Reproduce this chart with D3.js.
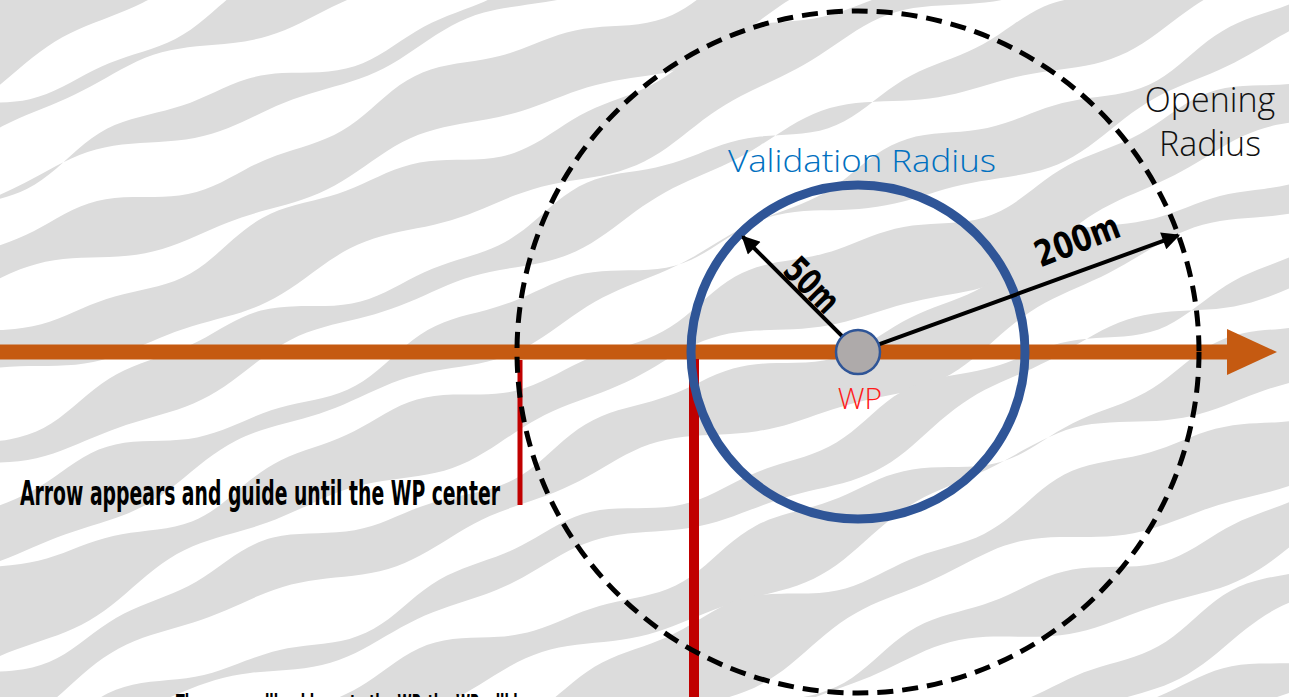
<!DOCTYPE html>
<html lang="en">
<head>
<meta charset="UTF-8">
<title>WP radius diagram</title>
<script src="https://d3js.org/d3.v7.min.js"></script>
<style>
  body { margin: 0; padding: 0; background: #fff; overflow: hidden; }
  svg { display: block; }
  .cond { font-family: "Liberation Sans Narrow", "DejaVu Sans Condensed", "Roboto", sans-serif; font-weight: bold; }
  .thin { font-family: "Open Sans", "Lato", sans-serif; font-weight: 300; }
</style>
</head>
<body>
<div id="chart"></div>
<script>
// radii in metres and their labels
const radiusNames = ["Validation Radius", "Opening Radius"];
const radiusMeters = [50, 200];
const radiusLabels = ["50m", "200m"];
const arrowAngles = [-135, -20];   // degrees, direction of each radius arrow
const wpLabel = "WP";
const notes = ["Arrow appears and guide until the WP center",
               "The arrow will guide up to the WP, the WP will be"];

const width = 1289, height = 697;
const cx = 858, cy = 352;

const svg = d3.select("#chart").append("svg")
  .attr("width", width).attr("height", height);

// diagram is not to scale: piecewise map metres -> pixels
const r = d3.scaleLinear().domain([0, 50, 200]).range([0, 167, 341]);

// ---- camouflage background (decoration) ----
const bg = svg.append("g").attr("transform", `rotate(-21 ${width / 2} ${height / 2})`);
const bandLine = d3.line().curve(d3.curveBasisClosed);
for (let i = 0; i < 16; i++) {
  const v0 = -600 + i * 76;
  const th = 40 + 16 * Math.sin(i * 1.7);
  const top = [], bot = [];
  for (let u = -400; u <= 1700; u += 35) {
    const w1 = 14 * Math.sin(u / 70 + i * 2.3) + 7 * Math.sin(u / 27 + i);
    const w2 = 15 * Math.sin(u / 83 + i * 1.1) + 6 * Math.cos(u / 31 + i * 3);
    top.push([u, v0 + height / 2 - th / 2 + w1]);
    bot.push([u, v0 + height / 2 + th / 2 + w2 + 12 * Math.sin(u / 160 + i)]);
  }
  bg.append("path")
    .attr("d", bandLine(top.concat(bot.reverse())))
    .attr("fill", "#dcdcdc");
}

// ---- route arrow ----
svg.append("line")
  .attr("x1", 0).attr("y1", cy).attr("x2", 1232).attr("y2", cy)
  .attr("stroke", "#c55a11").attr("stroke-width", 15);
svg.append("path")
  .attr("d", `M1227,${cy - 23}L1277,${cy}L1227,${cy + 23}Z`)
  .attr("fill", "#c55a11");

// ---- red markers ----
const xOpen = cx - r(200), xVal = cx - r(50);
svg.append("line")
  .attr("x1", xOpen + 3).attr("y1", cy + 8).attr("x2", xOpen + 3).attr("y2", 505)
  .attr("stroke", "#c00000").attr("stroke-width", 5);
svg.append("line")
  .attr("x1", xVal + 3).attr("y1", cy + 7).attr("x2", xVal + 3).attr("y2", height)
  .attr("stroke", "#c00000").attr("stroke-width", 10);

// ---- circles ----
svg.append("circle")
  .attr("cx", cx).attr("cy", cy).attr("r", r(radiusMeters[0]))
  .attr("fill", "none").attr("stroke", "#2f5597").attr("stroke-width", 9);
svg.append("circle")
  .attr("cx", cx).attr("cy", cy).attr("r", r(radiusMeters[1]))
  .attr("fill", "none").attr("stroke", "#000").attr("stroke-width", 5)
  .attr("stroke-dasharray", "16 9");

// ---- radius arrows ----
const defs = svg.append("defs");
defs.append("marker")
  .attr("id", "head").attr("viewBox", "0 0 10 10")
  .attr("refX", 9).attr("refY", 5)
  .attr("markerWidth", 5).attr("markerHeight", 4.5)
  .attr("orient", "auto")
  .append("path").attr("d", "M0,0L10,5L0,10Z").attr("fill", "#000");

radiusMeters.forEach((m, i) => {
  const a = arrowAngles[i] * Math.PI / 180;
  const len = r(m) - (i === 0 ? 4 : 0);
  svg.append("line")
    .attr("x1", cx + 20 * Math.cos(a)).attr("y1", cy + 20 * Math.sin(a))
    .attr("x2", cx + len * Math.cos(a)).attr("y2", cy + len * Math.sin(a))
    .attr("stroke", "#000").attr("stroke-width", 4)
    .attr("marker-end", "url(#head)");
});

// labels along arrows
svg.append("text").attr("class", "cond")
  .attr("transform", "translate(812,285) rotate(45)")
  .attr("text-anchor", "middle").attr("dy", "0.35em")
  .attr("font-size", 36).attr("textLength", 62).attr("lengthAdjust", "spacingAndGlyphs")
  .text(radiusLabels[0]);
svg.append("text").attr("class", "cond")
  .attr("transform", "translate(1077,240) rotate(-21)")
  .attr("text-anchor", "middle").attr("dy", "0.35em")
  .attr("font-size", 36).attr("textLength", 88).attr("lengthAdjust", "spacingAndGlyphs")
  .text(radiusLabels[1]);

// ---- WP ----
svg.append("circle")
  .attr("cx", cx).attr("cy", cy).attr("r", 22)
  .attr("fill", "#aeaaaa").attr("stroke", "#2f5597").attr("stroke-width", 2.5);
svg.append("text").attr("class", "thin")
  .attr("x", cx + 2).attr("y", 409).attr("text-anchor", "middle")
  .attr("font-size", 30).attr("fill", "#ff1a1a").text(wpLabel);

// ---- radius names ----
svg.append("text").attr("class", "thin")
  .attr("x", 728).attr("y", 172)
  .attr("font-size", 32).attr("fill", "#0070c0")
  .attr("textLength", 268).attr("lengthAdjust", "spacingAndGlyphs")
  .text(radiusNames[0]);
const op = radiusNames[1].split(" ");
svg.append("text").attr("class", "thin")
  .attr("x", 1210).attr("y", 112).attr("text-anchor", "middle")
  .attr("font-size", 34).attr("fill", "#111").text(op[0]);
svg.append("text").attr("class", "thin")
  .attr("x", 1210).attr("y", 156).attr("text-anchor", "middle")
  .attr("font-size", 34).attr("fill", "#111").text(op[1]);

// ---- notes ----
svg.append("text").attr("class", "cond")
  .attr("x", 20).attr("y", 505)
  .attr("font-size", 34).attr("fill", "#000")
  .attr("textLength", 480).attr("lengthAdjust", "spacingAndGlyphs")
  .text(notes[0]);
svg.append("text").attr("class", "cond")
  .attr("x", 176).attr("y", 719)
  .attr("font-size", 34).attr("fill", "#000")
  .attr("textLength", 355).attr("lengthAdjust", "spacingAndGlyphs")
  .text(notes[1]);
</script>
</body>
</html>
